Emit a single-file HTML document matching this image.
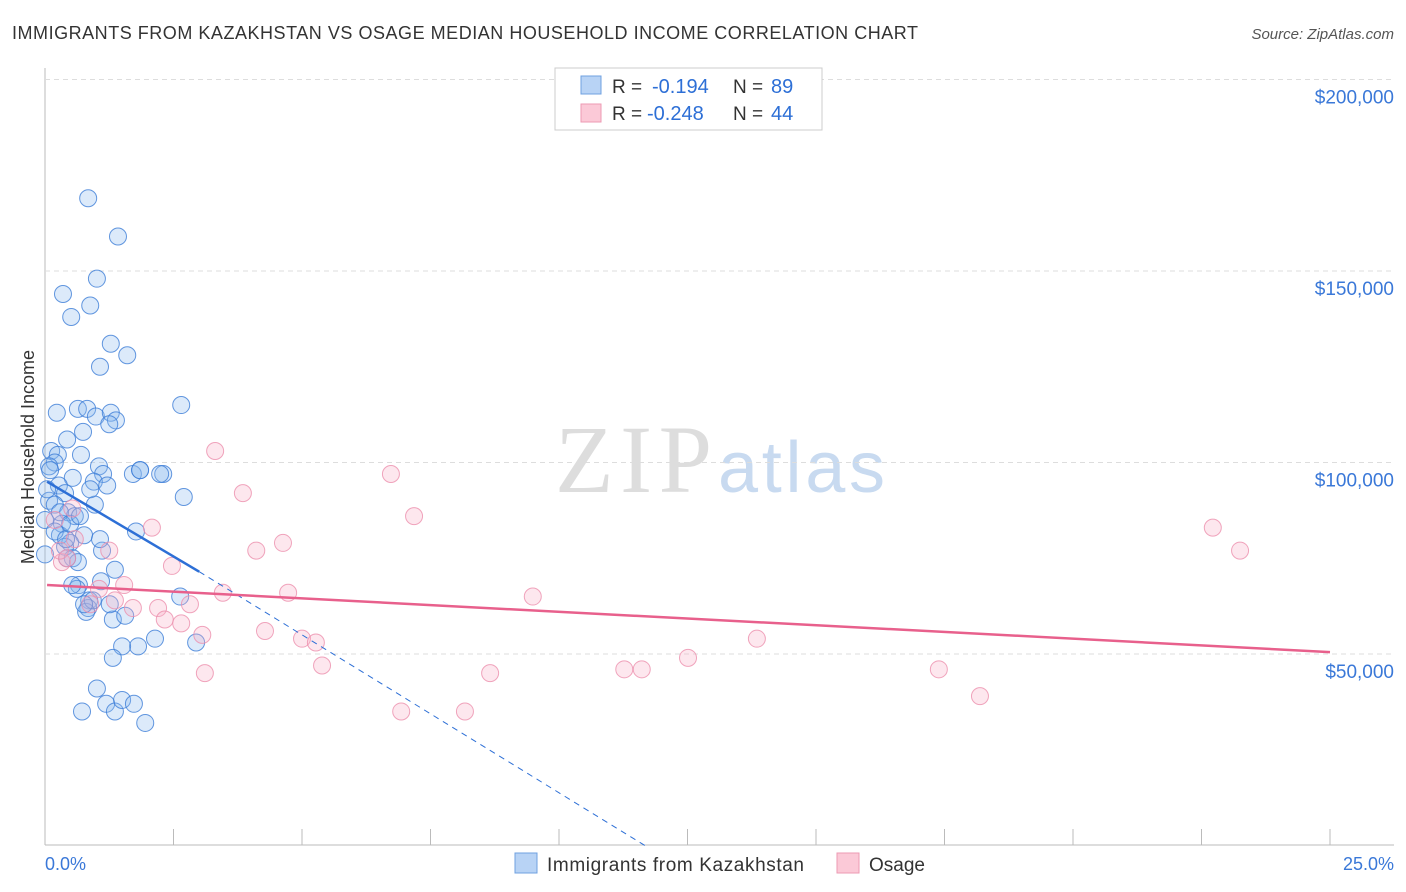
<!DOCTYPE html>
<html><head><meta charset="utf-8"><style>
body{margin:0;background:#fff;font-family:"Liberation Sans",sans-serif;}
#c{position:absolute;left:0;top:0}
</style></head><body>
<svg id="c" width="1406" height="892">
<text x="12" y="39" font-size="18" fill="#333" textLength="906">IMMIGRANTS FROM KAZAKHSTAN VS OSAGE MEDIAN HOUSEHOLD INCOME CORRELATION CHART</text>
<text x="1394" y="39" font-size="15" fill="#555" font-style="italic" text-anchor="end">Source: ZipAtlas.com</text>
<text transform="translate(34,457) rotate(-90)" font-size="18" fill="#333" text-anchor="middle">Median Household Income</text>
<text x="555" y="492" font-size="96" fill="#ddd" font-family="Liberation Serif,serif" textLength="157">ZIP</text>
<text x="718" y="492" font-size="72" fill="#c8daf0" textLength="167">atlas</text>
<g id="grid"></g><g id="pts"></g><g id="lines"></g>
<g>
<rect x="555" y="68" width="267" height="62" fill="#fff" stroke="#ccc"/>
<rect x="581" y="76" width="20" height="18" fill="#b8d3f5" stroke="#6fa0e0"/>
<rect x="581" y="104" width="20" height="18" fill="#fbc9d7" stroke="#ec9ab3"/>
<text x="612" y="93" font-size="19" fill="#333">R =</text>
<text x="652" y="93" font-size="20" fill="#2d6fd6">-0.194</text>
<text x="733" y="93" font-size="19" fill="#333">N =</text>
<text x="771" y="93" font-size="20" fill="#2d6fd6">89</text>
<text x="612" y="120" font-size="19" fill="#333">R =</text>
<text x="647" y="120" font-size="20" fill="#2d6fd6">-0.248</text>
<text x="733" y="120" font-size="19" fill="#333">N =</text>
<text x="771" y="120" font-size="20" fill="#2d6fd6">44</text>
</g>
<g>
<rect x="515" y="853" width="22" height="20" fill="#b8d3f5" stroke="#6fa0e0"/>
<text x="547" y="871" font-size="19" fill="#333" textLength="257">Immigrants from Kazakhstan</text>
<rect x="837" y="853" width="22" height="20" fill="#fbc9d7" stroke="#ec9ab3"/>
<text x="869" y="871" font-size="19" fill="#333">Osage</text>
</g>
<text x="45" y="870" font-size="18" fill="#3a78d8">0.0%</text>
<text x="1394" y="870" font-size="18" fill="#3a78d8" text-anchor="end">25.0%</text>
</svg>
<script>
const yTicks=[50,100,150,200];
const yTickLabels=["$50,000","$100,000","$150,000","$200,000"];
const blueX=[0.84,1.42,1.01,0.35,0.88,0.51,1.28,1.60,1.07,0.23,0.64,0.82,0.99,1.28,1.38,1.25,2.65,0.43,0.74,0.12,0.25,0.70,0.19,0.08,1.05,1.13,0.54,0.95,1.21,1.71,1.85,2.30,2.70,0.27,0.39,0.08,0.19,0.97,0.45,0.58,0.33,0.76,0.29,1.77,0.49,0.39,1.11,0.54,0.64,0.43,1.36,0.66,0.62,1.09,2.63,0.86,0.84,0.80,1.32,1.56,1.81,1.50,2.14,2.94,1.32,1.01,1.19,0.72,1.36,1.50,1.73,1.95,0.0,0.0,0.04,0.10,0.19,0.29,0.41,0.49,0.68,0.88,1.07,0.93,0.53,0.76,1.26,1.85,2.24];
const blueY=[169,159,148,144,141,138,131,128,125,113,114,114,112,113,111,110,115,106,108,103,102,102,100,99,99,97,96,95,94,97,98,97,91,94,92,90,89,89,87,86,84,81,81,82,79,78,77,75,74,75,72,68,67,69,65,64,62,61,59,60,52,52,54,53,49,41,37,35,35,38,37,32,76,85,93,98,82,87,80,84,86,93,80,64,68,63,63,98,97];
const pinkX=[3.31,6.73,3.85,7.18,2.08,4.11,4.63,22.72,23.25,2.47,1.25,0.58,0.33,0.43,1.05,1.54,3.46,4.73,9.49,1.36,1.71,2.20,2.82,2.33,2.65,3.06,4.28,5.00,5.27,5.39,8.66,11.27,11.61,12.51,13.85,17.39,18.19,6.93,8.17,3.11,0.88,0.29,0.19,0.53];
const pinkY=[103,97,92,86,83,77,79,83,77,73,77,80,74,75,67,68,66,66,65,64,62,62,63,59,58,55,56,54,53,47,45,46,46,49,54,46,39,35,35,45,63,77,85,88];
const blueFit=[[0.04,95],[3.0,71.5],[11.67,0]];
const pinkFit=[[0.04,68],[25,50.5]];
const NS="http://www.w3.org/2000/svg";
const X=v=>45+v*51.4, Y=v=>845.5-v*3.83;
function mk(t,a,p){const e=document.createElementNS(NS,t);for(const k in a)e.setAttribute(k,a[k]);p.appendChild(e);return e;}
const grid=document.getElementById('grid');
mk('line',{x1:45,y1:68,x2:45,y2:845,stroke:'#bbb'},grid);
mk('line',{x1:45,y1:845,x2:1394,y2:845,stroke:'#bbb'},grid);
for(let i=0;i<=10;i++){const l=mk('line',{x1:X(i*2.5),y1:845,x2:X(i*2.5),y2:829,stroke:'#bbb'},grid);

}
yTicks.forEach((t,i)=>{const l=mk('line',{x1:45,y1:Y(t),x2:1394,y2:Y(t),stroke:'#ddd','stroke-dasharray':'5,4'},grid);


const tx=mk('text',{x:1394,y:Y(t)+24,'font-size':19,fill:'#3a78d8','text-anchor':'end'},grid);


tx.textContent=yTickLabels[i];});
const pts=document.getElementById('pts');
blueX.forEach((v,i)=>{const c=mk('circle',{cx:X(v),cy:Y(blueY[i]),r:8.5,fill:'rgba(140,185,240,0.3)',stroke:'rgba(60,125,215,0.8)','stroke-width':1},pts);

});
pinkX.forEach((v,i)=>{const c=mk('circle',{cx:X(v),cy:Y(pinkY[i]),r:8.5,fill:'rgba(248,175,198,0.3)',stroke:'rgba(236,143,172,0.8)','stroke-width':1},pts);

});
const L=document.getElementById('lines');
let a=mk('line',{x1:X(blueFit[0][0]),y1:Y(blueFit[0][1]),x2:X(blueFit[1][0]),y2:Y(blueFit[1][1]),stroke:'#2d6fd6','stroke-width':2.5},L);


a=mk('line',{x1:X(blueFit[1][0]),y1:Y(blueFit[1][1]),x2:X(blueFit[2][0]),y2:Y(blueFit[2][1]),stroke:'#2d6fd6','stroke-width':1,'stroke-dasharray':'6,5'},L);


a=mk('line',{x1:X(pinkFit[0][0]),y1:Y(pinkFit[0][1]),x2:X(pinkFit[1][0]),y2:Y(pinkFit[1][1]),stroke:'#e8608c','stroke-width':2.5},L);


</script>
</body></html>
